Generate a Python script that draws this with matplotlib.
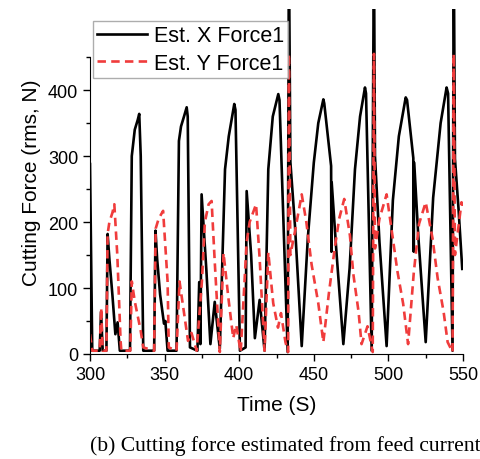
import numpy as np
import matplotlib
matplotlib.use("Agg")
import matplotlib.pyplot as plt
from matplotlib.ticker import MultipleLocator

plt.rcParams['font.family'] = ['Liberation Sans', 'DejaVu Sans']

# Est. X Force1 (black)
tx = [300, 301.5, 306.5, 307.4, 308.5, 311, 311.8, 313, 315, 317, 318.5, 320,
      326.8, 328, 330, 332, 333, 334, 335.7, 343, 343.9, 345, 347, 349.6, 350.5, 352,
      358, 359.6, 361, 363, 364.8, 365.5, 367, 372, 373.2, 374, 374.8, 378, 380.7, 383.6, 387,
      390.5, 393, 396.7, 397.5, 400.5, 404.3, 405, 408, 410.5, 413.7, 417,
      419.5, 422.5, 426.2, 427, 432.5, 433.3, 434.3, 437.4, 441.9,
      446, 450, 453, 456.4, 457, 461.6, 461.8, 462, 465, 469.8,
      474, 477.6, 481, 484.3, 485, 488.8, 490.3, 491, 494, 498.8,
      503, 507, 511.6, 512.5, 516.7, 517, 517.3, 520, 525,
      530, 535, 539, 540, 543, 543.8, 544.6, 547, 549.5]
fx = [288, 5, 5, 64, 5, 5, 182, 144, 90, 30, 48, 5,
      5, 300, 340, 355, 364, 300, 5, 5, 187, 144, 90, 46, 50, 5,
      5, 323, 345, 360, 374, 360, 10, 5, 109, 15, 242, 127, 15, 79, 8,
      280, 330, 379, 370, 5, 10, 247, 150, 24, 82, 5,
      280, 360, 394, 385, 3, 620, 291, 194, 12,
      176, 290, 350, 386, 380, 285, 155, 260, 160, 15,
      130, 280, 360, 404, 395, 5, 620, 300, 170, 12,
      233, 330, 389, 385, 297, 155, 290, 180, 18,
      237, 350, 404, 395, 5, 620, 296, 220, 129]

# Est. Y Force1 (red dashed)
ty = [300, 301.5, 306.5, 307.5, 308.5, 311, 311.8, 313, 315, 316.3, 318.3, 320.5, 321,
      327, 328, 330, 334, 335.7, 343, 344, 346, 349, 352, 352.8,
      358, 360, 365.7, 368, 371.5, 375, 377, 379.5, 381.5, 383.6, 387,
      389.5, 392.8, 396, 398, 401, 405, 407, 411.3, 413.7, 417,
      419.5, 422.8, 426, 428, 431, 432.8, 433.3, 434.3, 437.4, 441.9,
      445, 448.5, 453, 456.4, 460, 464, 467, 470.4, 474.2, 476.5,
      480, 482, 486, 489.5, 490.3, 491, 494, 498.8, 503.6, 506, 509.9, 513.2,
      517, 520.5, 525, 529.6, 533, 537, 539.7, 543, 543.8, 544.6, 549, 550]
fy = [30, 5, 5, 70, 5, 5, 182, 200, 214, 227, 150, 20, 5,
      5, 110, 80, 35, 10, 5, 190, 205, 217, 110, 10,
      5, 110, 20, 32, 5, 110, 200, 227, 232, 140, 3,
      153, 84, 24, 44, 3, 170, 200, 227, 145, 5,
      154, 77, 40, 62, 18, 3, 455, 150, 186, 242,
      200, 136, 77, 18, 90, 160, 205, 235, 180, 121,
      64, 15, 42, 3, 455, 160, 205, 242, 165, 126, 76, 15,
      123, 197, 230, 175, 115, 64, 18, 3, 455, 150, 230, 225]

fig = plt.figure(figsize=(4.81, 4.60), dpi=100)
ax = fig.add_axes([90 / 481, 105 / 460, 373 / 481, 345 / 460])

ax.plot(tx, fx, color='black', lw=1.9, label='Est. X Force1')
ax.plot(ty, fy, color='#f03c3c', lw=1.9, ls=(0, (3.2, 2)), label='Est. Y Force1')

ax.set_xlim(300, 550)
ax.set_ylim(0, 523)
ax.spines['top'].set_visible(False)
ax.spines['right'].set_visible(False)
ax.spines['left'].set_bounds(0, 450)
ax.xaxis.set_major_locator(MultipleLocator(50))
ax.xaxis.set_minor_locator(MultipleLocator(25))
ax.set_yticks([0, 100, 200, 300, 400])
ax.set_yticks([50, 150, 250, 350, 450], minor=True)
ax.tick_params(which='major', direction='out', length=5, width=1, labelsize=13)
ax.tick_params(which='minor', direction='out', length=3, width=1)

ax.set_xlabel('Time (S)', fontsize=15, labelpad=9)
ax.set_ylabel('Cutting Force (rms, N)', fontsize=15, labelpad=5)

leg = ax.legend(loc='upper left', bbox_to_anchor=(3 / 373, 1 - 12 / 345), fontsize=15.5,
                frameon=True, fancybox=False, borderaxespad=0, handlelength=2.3,
                handletextpad=0.33, borderpad=0.2, labelspacing=0.3)
leg.get_frame().set_edgecolor('#999999')
leg.get_frame().set_linewidth(1)

fig.text(90 / 481, 9 / 460, '(b) Cutting force estimated from feed current',
         family='Liberation Serif', fontsize=15.6, ha='left', va='baseline')

fig.savefig('out.png', dpi=100)
